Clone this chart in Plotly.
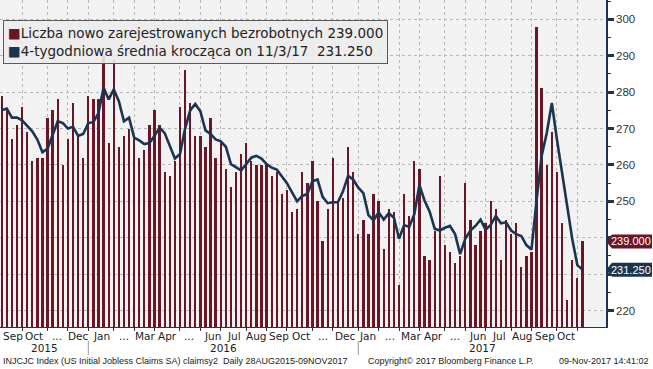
import plotly.graph_objects as go
import pandas as pd

# ---------------- data ----------------
claims = [279, 275, 267, 271, 276, 269, 261, 262, 262, 273,
          275, 278, 260, 267, 277, 268, 262, 279, 278, 278,
          290, 266, 289, 265, 268, 270, 267, 262, 264, 271,
          275, 271, 258, 257, 261, 276, 286, 277, 268, 268,
          265, 273, 262, 266, 259, 254, 258, 263, 266, 261,
          260, 260, 260, 257, 258, 252, 253, 247, 248, 258,
          255, 261, 250, 239, 248, 262, 250, 251, 265, 258,
          241, 245, 241, 252, 250, 237, 248, 247, 227, 252,
          246, 261, 259, 235, 234, 242, 257, 238, 236, 233,
          235, 255, 245, 238, 242, 244, 250, 248, 234, 245,
          241, 244, 232, 235, 236, 298, 281, 260, 269, 258,
          244, 223, 234, 229, 239]

ma4 = [275, 275.5, 273, 273, 272.25, 270.75, 269.25, 267, 263.5, 264.5,
       268, 272, 271.5, 270, 270.5, 268, 268.5, 271.5, 271.75, 274.25,
       281.25, 278, 280.75, 277.5, 272, 273, 267.5, 266.75, 265.75, 266,
       268, 270.25, 268.75, 265.25, 261.75, 263, 270, 275, 276.75, 274.75,
       269.5, 268.5, 267, 266.5, 265, 260.25, 259.25, 258.5, 260.25, 262,
       262.5, 261.75, 260.25, 259.25, 258.75, 256.75, 255, 252.5, 250, 251.5,
       252, 255.5, 256, 251.25, 249.5, 249.75, 249.75, 252.75, 257, 256,
       253.75, 252.25, 246.25, 244.75, 247, 245, 246.75, 245.5, 239.75, 243.5,
       243, 246.5, 254.5, 250.25, 247.25, 242.5, 242, 242.75, 243.25, 241,
       235.5, 239.75, 242, 243.25, 245, 242.25, 243.5, 246, 244, 244.25,
       242, 241, 240.5, 238, 236.75, 250.25, 262.5, 268.75, 277, 267,
       257.75, 248.5, 239.75, 232.5, 231.25]

first_week = "2015-08-29"          # week-ending Saturday of the first bar
dates = pd.date_range(first_week, periods=len(claims), freq="7D")

month_labels = ["Sep", "Oct", "...", "Dec", "Jan", "...", "Mar", "Apr", "...",
                "Jun", "Jul", "Aug", "Sep", "Oct", "...", "Dec", "Jan", "...",
                "Mar", "Apr", "...", "Jun", "Jul", "Aug", "Sep", "Oct"]
month_starts = pd.date_range("2015-09-01", periods=len(month_labels), freq="MS")
year_labels = ["2015", "2016", "2017"]
y_ticks = [220, 230, 240, 250, 260, 270, 280, 290, 300]

series_name = "Liczba nowo zarejestrowanych bezrobotnych"
ma_name = "4-tygodniowa średnia krocząca on 11/3/17"

footer_left = "INJCJC Index (US Initial Jobless Claims SA) claimsy2  Daily 28AUG2015-09NOV2017"
footer_mid = "Copyright© 2017 Bloomberg Finance L.P."
footer_right = "09-Nov-2017 14:41:02"

# ---------------- styling ----------------
RED = "#6b1626"
NAVY = "#1b3550"
FONT = "DejaVu Sans"
TAGFONT = "Liberation Sans"
W, H = 653, 369
ML, MR, MT, MB = 0, 47, 0, 42
PW, PH = W - ML - MR, H - MT - MB
x_range = [pd.Timestamp("2015-08-26 16:00"), pd.Timestamp("2017-12-06 10:00")]
y_range = [215.5, 305.3]

s = pd.Series(dates)
last_in_month = s.groupby(s.dt.to_period("M")).max()
grid_dates = [d for p, d in last_in_month.items()
              if pd.Period("2015-09", "M") <= p <= pd.Period("2017-10", "M")]
dec_seps = [d for p, d in last_in_month.items() if p.month == 12]

# tick labels hidden where the value tags sit
tag_vals = [claims[-1], ma4[-1]]
y_ticktext = ["" if any(abs(t - v) < 5 for v in tag_vals) else str(t) for t in y_ticks]


def py(pix):
    """pixel row (from top of figure) -> paper y"""
    return (PH - pix) / PH


fig = go.Figure()
fig.add_bar(x=dates, y=claims, marker_color=RED, marker_line_width=0,
            width=3.2 * 86400000, name=series_name, showlegend=False)
fig.add_scatter(x=dates, y=ma4, mode="lines", line=dict(color=NAVY, width=2.6),
                name=ma_name, showlegend=False)

annotations = []
# month labels
for lab, ms in zip(month_labels, month_starts):
    annotations.append(dict(x=ms + pd.Timedelta(days=12), xref="x", y=py(336),
                            yref="paper", text=lab, showarrow=False, yanchor="middle",
                            font=dict(family=FONT, size=10.5, color="#222")))
# year labels centred over the visible part of each year
bounds = [x_range[0]] + dec_seps + [x_range[1]]
for i, yl in enumerate(year_labels):
    mid = bounds[i] + (bounds[i + 1] - bounds[i]) / 2
    annotations.append(dict(x=mid, xref="x", y=py(348), yref="paper", text=yl,
                            showarrow=False, yanchor="middle",
                            font=dict(family=FONT, size=10.5, color="#222")))

shapes = []
for d in dec_seps:
    shapes.append(dict(type="line", xref="x", yref="paper", x0=d, x1=d,
                       y0=py(341), y1=py(355), line=dict(color="#999", width=1)))

# legend box
legend_text = (f"<span style='color:{RED}'>■</span>{series_name} {claims[-1]:.3f}<br>"
               f"<span style='color:{NAVY}'>■</span>{ma_name}\u00a0\u00a0{ma4[-1]:.3f}")
annotations.append(dict(x=3 / PW, xref="paper", y=py(20), yref="paper",
                        xanchor="left", yanchor="top", align="left", text=legend_text,
                        showarrow=False, bgcolor="rgba(236,236,236,0.88)",
                        bordercolor="#5a5a5a", borderwidth=1, borderpad=4,
                        font=dict(family=FONT, size=13.5, color="#222")))

# value tags on the right axis
for val, col in zip(tag_vals, [RED, NAVY]):
    shapes.append(dict(type="path", xref="paper", yref="y", xsizemode="pixel",
                       ysizemode="pixel", xanchor=1, yanchor=val,
                       path="M 0,0 L 6,7 L 46,7 L 46,-7 L 6,-7 Z",
                       fillcolor=col, line=dict(width=0), layer="above"))
    annotations.append(dict(x=(W - 1) / PW, xref="paper", y=val, yref="y", xanchor="right",
                            text=f"{val:.3f}", showarrow=False, borderpad=0,
                            font=dict(family=TAGFONT, size=11, color="white")))

# footer
fy = py(361)
foot_font = dict(family="Liberation Sans", size=9, color="#222")
annotations.append(dict(x=1 / PW, xref="paper", y=fy, yref="paper", xanchor="left",
                        yanchor="middle", text=footer_left, showarrow=False, font=foot_font))
annotations.append(dict(x=366 / PW, xref="paper", y=fy, yref="paper", xanchor="left",
                        yanchor="middle", text=footer_mid, showarrow=False, font=foot_font))
annotations.append(dict(x=(W - 2) / PW, xref="paper", y=fy, yref="paper", xanchor="right",
                        yanchor="middle", text=footer_right, showarrow=False, font=foot_font))

fig.update_layout(
    width=W, height=H,
    margin=dict(l=ML, r=MR, t=MT, b=MB, pad=0),
    paper_bgcolor="white", plot_bgcolor="#f2f2f2",
    bargap=0, showlegend=False,
    annotations=annotations, shapes=shapes,
    xaxis=dict(type="date", range=x_range, tickvals=grid_dates,
               ticktext=[""] * len(grid_dates), showgrid=True, gridcolor="#b8b8b8",
               griddash="dot", gridwidth=1, ticks="outside", ticklen=3,
               tickcolor="#333", showline=True, linecolor="#333", linewidth=1,
               zeroline=False),
    yaxis=dict(side="right", range=y_range, tickvals=y_ticks, ticktext=y_ticktext,
               showgrid=True, gridcolor="#b8b8b8", griddash="dot", gridwidth=1,
               ticks="outside", ticklen=6, tickwidth=2.5, tickcolor=NAVY,
               showline=True, linecolor=NAVY, linewidth=1.5, zeroline=False,
               minor=dict(dtick=5, ticklen=3, tickwidth=1, tickcolor=NAVY, showgrid=False),
               tickfont=dict(family=TAGFONT, size=11.5, color="#333")),
)

fig.write_html("out.html", config={"displayModeBar": False},
               post_script="document.body.style.margin='0';document.body.style.overflow='hidden';")
